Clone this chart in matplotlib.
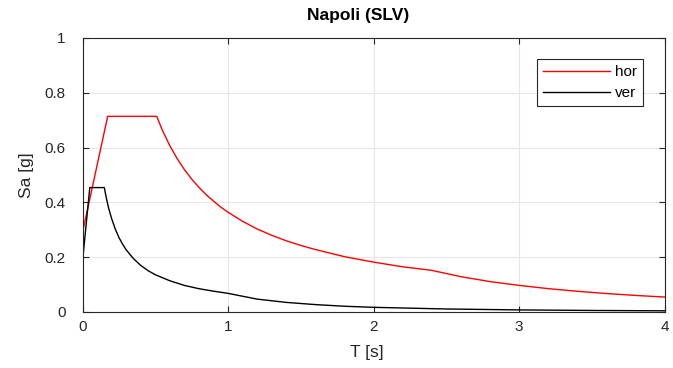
import matplotlib
matplotlib.use("Agg")
import matplotlib.pyplot as plt

plt.rcParams['font.family'] = ['Liberation Sans', 'DejaVu Sans']

# horizontal spectrum
T_hor = [0, 0.173, 0.51, 0.55, 0.6, 0.65, 0.7, 0.75, 0.8, 0.85, 0.9, 0.95, 1.0,
         1.1, 1.2, 1.3, 1.4, 1.5, 1.6, 1.8, 2.0, 2.2, 2.4, 2.6, 2.8, 3.0,
         3.2, 3.4, 3.6, 3.8, 4.0]
Sa_hor = [0.29, 0.714, 0.714, 0.662, 0.607, 0.560, 0.520, 0.485, 0.455, 0.428,
          0.405, 0.383, 0.364, 0.331, 0.303, 0.280, 0.260, 0.243, 0.228, 0.202,
          0.182, 0.165, 0.152, 0.129, 0.111, 0.0971, 0.0853, 0.0756, 0.0674,
          0.0605, 0.0546]

# vertical spectrum
T_ver = [0, 0.05, 0.15, 0.16, 0.17, 0.18, 0.2, 0.225, 0.25, 0.275, 0.3, 0.35,
         0.4, 0.45, 0.5, 0.6, 0.7, 0.8, 0.9, 1.0, 1.2, 1.4, 1.6, 1.8, 2.0,
         2.5, 3.0, 3.5, 4.0]
Sa_ver = [0.184, 0.454, 0.454, 0.426, 0.401, 0.378, 0.341, 0.303, 0.272, 0.248,
          0.227, 0.195, 0.170, 0.151, 0.136, 0.114, 0.097, 0.085, 0.076, 0.068,
          0.047, 0.035, 0.027, 0.021, 0.017, 0.011, 0.0076, 0.0056, 0.0043]

fig = plt.figure(figsize=(6.73, 3.68), dpi=100)
ax = fig.add_axes([0.1226, 0.1522, 0.8648, 0.7446])

ax.plot(T_hor, Sa_hor, color='#ff0000', lw=1.0, label='hor')
ax.plot(T_ver, Sa_ver, color='black', lw=1.0, label='ver')

ax.set_xlim(0, 4)
ax.set_ylim(0, 1)
ax.set_xticks([0, 1, 2, 3, 4])
ax.set_yticks([0, 0.2, 0.4, 0.6, 0.8, 1])
ax.set_xticklabels(['0', '1', '2', '3', '4'])
ax.set_yticklabels(['0', '0.2', '0.4', '0.6', '0.8', '1'])
ax.grid(True, color='#e6e6e6', lw=0.8)
ax.set_axisbelow(True)
for s in ax.spines.values():
    s.set_color('#262626')
    s.set_linewidth(0.8)
ax.tick_params(direction='in', top=True, right=True, colors='#262626',
               labelsize=11, length=4, width=0.8)
ax.tick_params(axis='x', pad=6)
ax.tick_params(axis='y', pad=12)

ax.set_xlabel('T [s]', fontsize=12.5, color='#262626', labelpad=6)
ax.xaxis.set_label_coords(0.488, -0.12)
ax.set_ylabel('Sa [g]', fontsize=12.5, color='#262626', labelpad=8)
ax.set_title('Napoli (SLV)', fontsize=12.5, fontweight='bold', x=0.474, pad=13)

leg = ax.legend(loc='upper right', bbox_to_anchor=(0.976, 0.95), fontsize=11,
                handlelength=4.4, handletextpad=0.3, borderpad=0.4,
                labelspacing=0.45, fancybox=False, framealpha=1)
leg.get_frame().set_edgecolor('#262626')
leg.get_frame().set_linewidth(0.8)

plt.savefig('out.png', dpi=100)
